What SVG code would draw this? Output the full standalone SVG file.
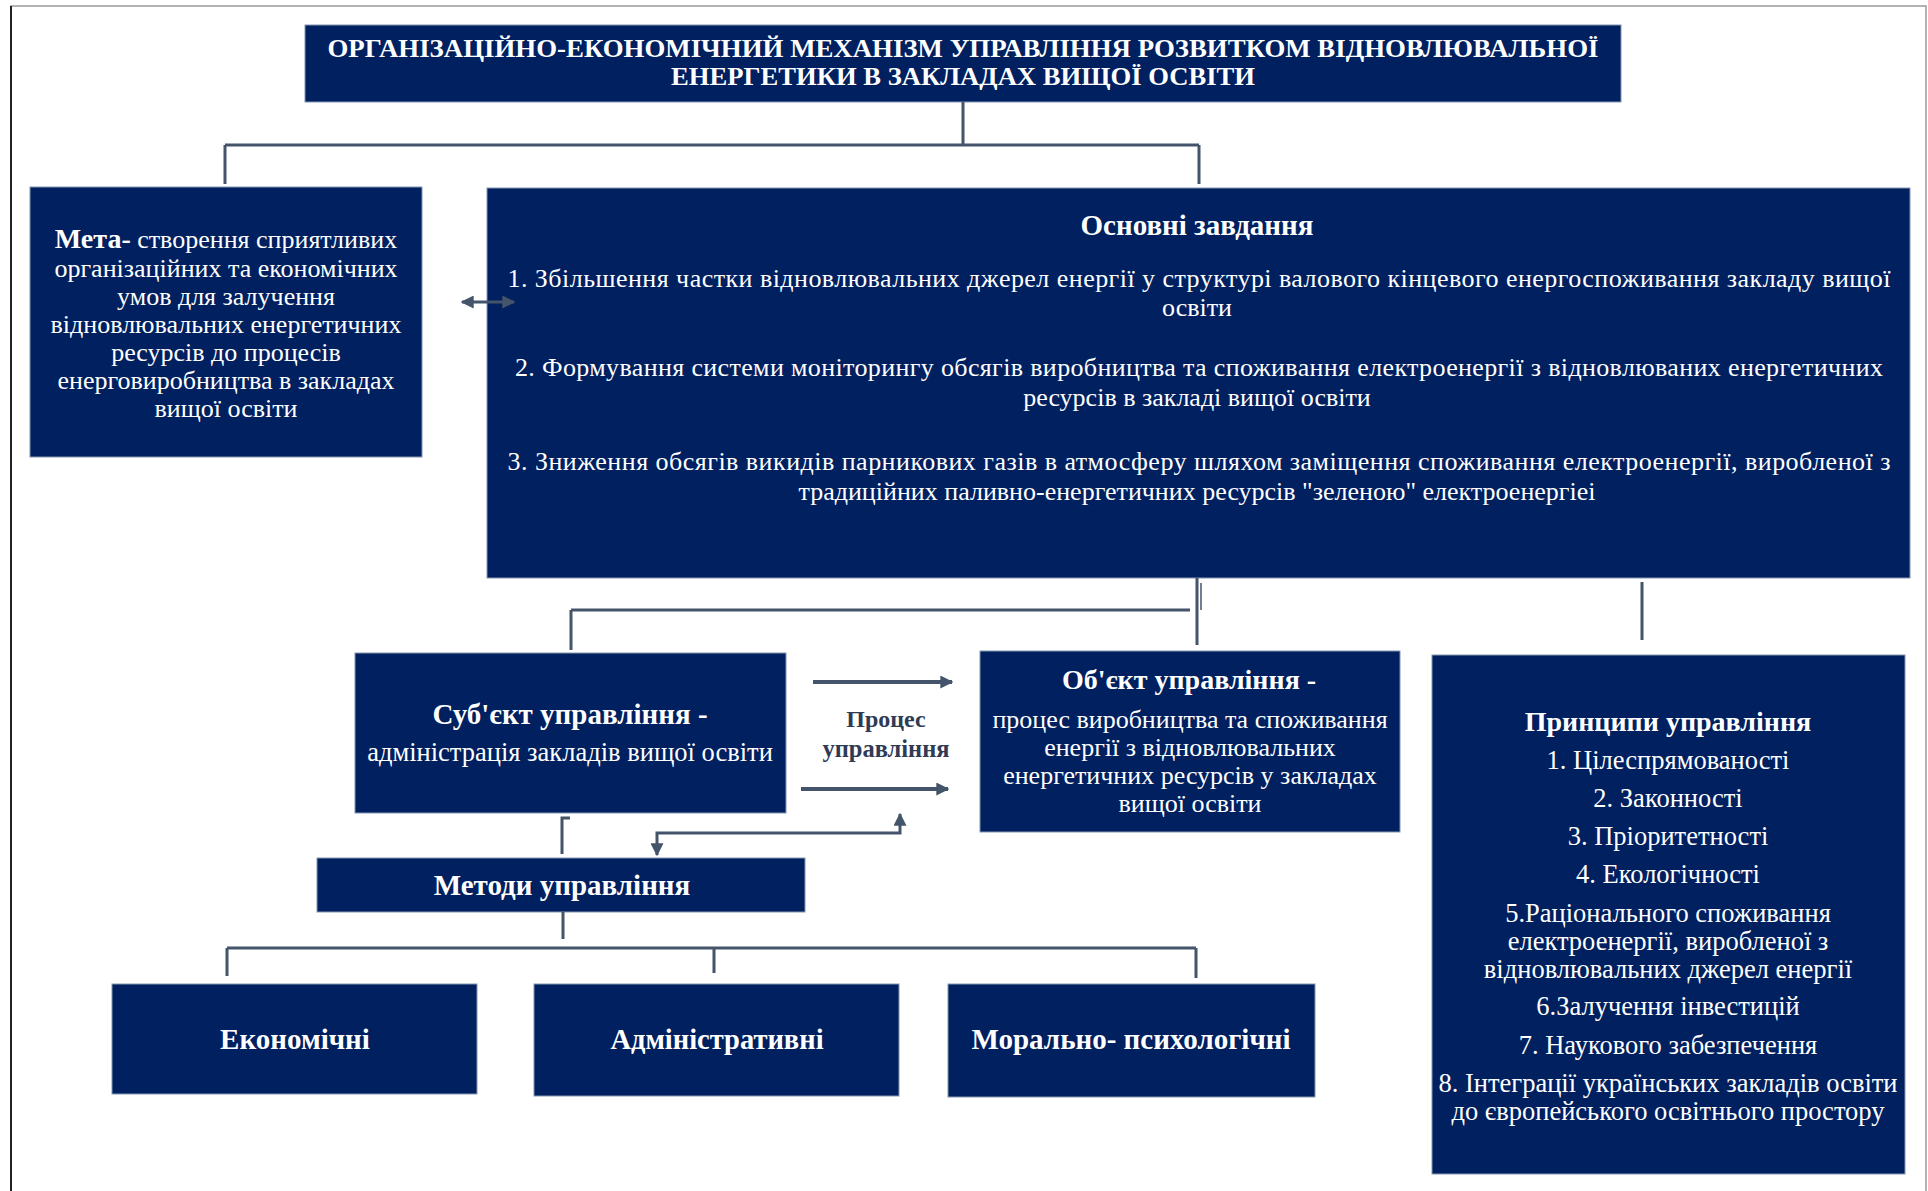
<svg xmlns="http://www.w3.org/2000/svg" width="1928" height="1191" viewBox="0 0 1928 1191">
<defs>
<marker id="ah" viewBox="0 0 10 10" refX="9" refY="5" markerWidth="13" markerHeight="13" markerUnits="userSpaceOnUse" orient="auto-start-reverse">
<path d="M0,0 L10,5 L0,10 z" fill="#44546A"/>
</marker>
<style>
.box{fill:#002060;stroke:#8497B0;stroke-width:1}
.t{font-family:"Liberation Serif","Times New Roman",serif;fill:#FFFFFF;text-anchor:middle}
.b{font-weight:bold}
.dk{font-family:"Liberation Serif","Times New Roman",serif;fill:#2F3B55;text-anchor:middle;font-weight:bold}
.c{fill:none;stroke:#44546A;stroke-width:3}
.c2{fill:none;stroke:#44546A;stroke-width:4}
.frame{fill:none;stroke:#9a9a9a;stroke-width:1.5}
</style>
</defs>
<rect width="1928" height="1191" fill="#FFFFFF"/>
<g id="frame">
<path class="frame" d="M11,1191 V6 H1926 V1191"/>
<path d="M11,6 V1191" stroke="#222" stroke-width="2" fill="none"/>
</g>

<g id="title">
<rect class="box" x="305" y="25" width="1316" height="77"/>
<text class="t b" x="963" y="57" font-size="25" textLength="1271" lengthAdjust="spacingAndGlyphs">ОРГАНІЗАЦІЙНО-ЕКОНОМІЧНИЙ  МЕХАНІЗМ УПРАВЛІННЯ РОЗВИТКОМ ВІДНОВЛЮВАЛЬНОЇ</text>
<text class="t b" x="963" y="85" font-size="25" textLength="584" lengthAdjust="spacingAndGlyphs">ЕНЕРГЕТИКИ  В ЗАКЛАДАХ ВИЩОЇ ОСВІТИ</text>
</g>

<g id="meta">
<rect class="box" x="30" y="187" width="392" height="270"/>
<text class="t" x="226" y="248" font-size="26"><tspan class="b" font-size="28">Мета-</tspan> створення  сприятливих</text>
<text class="t" x="226" y="277" font-size="26">організаційних  та економічних</text>
<text class="t" x="226" y="305" font-size="26">умов для  залучення</text>
<text class="t" x="226" y="333" font-size="26">відновлювальних  енергетичних</text>
<text class="t" x="226" y="361" font-size="26">ресурсів  до  процесів</text>
<text class="t" x="226" y="389" font-size="26">енерговиробництва в закладах</text>
<text class="t" x="226" y="417" font-size="26">вищої освіти</text>
</g>

<g id="tasks">
<rect class="box" x="487" y="188" width="1423" height="390"/>
<text class="t b" x="1197" y="235" font-size="29">Основні завдання</text>
<text class="t" x="1199" y="287" font-size="26" textLength="1383" lengthAdjust="spacing">1.  Збільшення частки відновлювальних джерел енергії  у структурі валового кінцевого енергоспоживання закладу вищої</text>
<text class="t" x="1197" y="316" font-size="26">освіти</text>
<text class="t" x="1199" y="376" font-size="26" textLength="1368" lengthAdjust="spacing">2. Формування системи моніторингу обсягів виробництва та споживання електроенергії з відновлюваних енергетичних</text>
<text class="t" x="1197" y="406" font-size="26">ресурсів в закладі вищої освіти</text>
<text class="t" x="1199" y="470" font-size="26" textLength="1383" lengthAdjust="spacing">3.  Зниження обсягів викидів парникових газів в атмосферу шляхом  заміщення споживання електроенергії, виробленої з</text>
<text class="t" x="1197" y="500" font-size="26">традиційних паливно-енергетичних ресурсів "зеленою" електроенергіеі</text>
</g>

<g id="subject">
<rect class="box" x="355" y="653" width="431" height="160"/>
<text class="t b" x="570" y="724" font-size="29">Суб'єкт управління -</text>
<text class="t" x="570" y="761" font-size="26.5">адміністрація  закладів  вищої освіти</text>
</g>

<g id="process">
<text class="dk" x="886" y="727" font-size="24">Процес</text>
<text class="dk" x="886" y="757" font-size="24.5">управління</text>
</g>

<g id="object">
<rect class="box" x="980" y="651" width="420" height="181"/>
<text class="t b" x="1189" y="689" font-size="28">Об'єкт управління -</text>
<text class="t" x="1190" y="728" font-size="26">процес виробництва та споживання</text>
<text class="t" x="1190" y="756" font-size="26">енергії  з відновлювальних</text>
<text class="t" x="1190" y="784" font-size="26">енергетичних ресурсів  у закладах</text>
<text class="t" x="1190" y="812" font-size="26">вищої освіти</text>
</g>

<g id="principles">
<rect class="box" x="1432" y="655" width="473" height="519"/>
<text class="t b" x="1668" y="731" font-size="28">Принципи  управління</text>
<text class="t" x="1668" y="769" font-size="26.5">1. Цілеспрямованості</text>
<text class="t" x="1668" y="807" font-size="26.5">2. Законності</text>
<text class="t" x="1668" y="845" font-size="26.5">3. Пріоритетності</text>
<text class="t" x="1668" y="883" font-size="26.5">4. Екологічності</text>
<text class="t" x="1668" y="922" font-size="26.5">5.Раціонального  споживання</text>
<text class="t" x="1668" y="950" font-size="26.5">електроенергії,  виробленої з</text>
<text class="t" x="1668" y="978" font-size="26.5">відновлювальних  джерел енергії</text>
<text class="t" x="1668" y="1015" font-size="26.5">6.Залучення інвестицій</text>
<text class="t" x="1668" y="1054" font-size="26.5">7. Наукового  забезпечення</text>
<text class="t" x="1668" y="1092" font-size="26.5">8. Інтеграції  українських  закладів  освіти</text>
<text class="t" x="1668" y="1120" font-size="26.5">до європейського  освітнього  простору</text>
</g>

<g id="methods">
<rect class="box" x="317" y="858" width="488" height="54"/>
<text class="t b" x="562" y="895" font-size="29">Методи управління</text>
</g>

<g id="economic">
<rect class="box" x="112" y="984" width="365" height="110"/>
<text class="t b" x="295" y="1049" font-size="29">Економічні</text>
</g>

<g id="administrative">
<rect class="box" x="534" y="984" width="365" height="112"/>
<text class="t b" x="717" y="1049" font-size="28.5">Адміністративні</text>
</g>

<g id="moral">
<rect class="box" x="948" y="984" width="367" height="113"/>
<text class="t b" x="1131" y="1049" font-size="29">Морально-  психологічні</text>
</g>

<g id="connectors">
<path class="c" d="M963,102 V145 M225,145 H1199 M225,145 V184 M1199,145 V184"/>
<path class="c" d="M462,302 H514" marker-start="url(#ah)" marker-end="url(#ah)"/>
<path class="c" d="M1197,578 V645 M571,610 H1190 M571,610 V650"/>
<path d="M1201,583 V610" stroke="#44546A" stroke-width="1.5" fill="none"/>
<path class="c" d="M1642,582 V640"/>
<path class="c2" d="M813,682 H952" marker-end="url(#ah)"/>
<path class="c2" d="M801,789 H948" marker-end="url(#ah)"/>
<path class="c" d="M570,818 H562 V854"/>
<path class="c" d="M657,855 V833 H900 V814" marker-start="url(#ah)" marker-end="url(#ah)"/>
<path class="c" d="M563,912 V939 M227,948 H1196 M227,948 V976 M714,948 V973 M1196,948 V978"/>
</g>
</svg>
